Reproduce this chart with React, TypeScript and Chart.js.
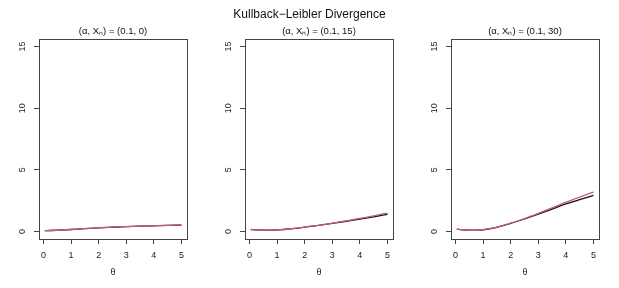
import React, { useEffect, useRef } from "react";
import { Chart, registerables } from "chart.js";

Chart.register(...registerables);

const mainTitle = "Kullback−Leibler Divergence";
const panelTitles = ["(α, Xₙ) = (0.1, 0)", "(α, Xₙ) = (0.1, 15)", "(α, Xₙ) = (0.1, 30)"];
const xLabel = "θ";

const theta = [0.05, 0.25, 0.5, 0.75, 1, 1.5, 2, 2.5, 3, 3.5, 4, 4.5, 5];

// panel 1 (X_n = 0)
const klBlack0 = [0.08, 0.09, 0.11, 0.14, 0.17, 0.24, 0.3, 0.35, 0.4, 0.44, 0.47, 0.5, 0.52];
const klRed0 = [0.08, 0.09, 0.11, 0.14, 0.17, 0.24, 0.31, 0.36, 0.41, 0.45, 0.48, 0.51, 0.53];
// panel 2 (X_n = 15)
const klBlack15 = [0.17, 0.14, 0.12, 0.12, 0.14, 0.23, 0.36, 0.5, 0.66, 0.83, 1.01, 1.2, 1.4];
const klRed15 = [0.17, 0.14, 0.12, 0.12, 0.14, 0.23, 0.37, 0.51, 0.68, 0.86, 1.07, 1.28, 1.5];
// panel 3 (X_n = 30)
const klBlack30 = [0.2, 0.15, 0.11, 0.11, 0.15, 0.35, 0.66, 1.02, 1.41, 1.82, 2.24, 2.58, 2.94];
const klRed30 = [0.2, 0.15, 0.11, 0.11, 0.15, 0.36, 0.68, 1.06, 1.48, 1.92, 2.38, 2.8, 3.2];

const blackSeries = [klBlack0, klBlack15, klBlack30];
const redSeries = [klRed0, klRed15, klRed30];

const xTicks = [0, 1, 2, 3, 4, 5];
const yTicks = [0, 5, 10, 15];

const FONT = "'Liberation Sans', Arial, Helvetica, sans-serif";
const PANEL_W = 206;
const H = 288;

const framePlugin = {
  id: "frame",
  afterDraw(chart: any) {
    const { ctx, chartArea } = chart;
    const { left, top, right, bottom } = chartArea;
    ctx.save();
    ctx.strokeStyle = "#444";
    ctx.lineWidth = 1;
    ctx.strokeRect(Math.round(left) + 0.5, Math.round(top) + 0.5, Math.round(right - left), Math.round(bottom - top));
    ctx.restore();
  },
};

function Panel({ idx }: { idx: number }) {
  const ref = useRef<HTMLCanvasElement | null>(null);
  useEffect(() => {
    if (!ref.current) return;
    const toPts = (arr: number[]) => theta.map((t, i) => ({ x: t, y: arr[i] }));
    const chart = new Chart(ref.current, {
      type: "line",
      data: {
        datasets: [
          {
            data: toPts(redSeries[idx]),
            borderColor: "#c0607c",
            borderWidth: 1.3,
            pointRadius: 0,
            cubicInterpolationMode: "monotone",
            fill: false,
            order: 0,
          },
          {
            data: toPts(blackSeries[idx]),
            borderColor: "#111",
            borderWidth: 1.3,
            pointRadius: 0,
            cubicInterpolationMode: "monotone",
            fill: false,
            order: 1,
          },
        ],
      } as any,
      options: {
        responsive: false,
        animation: false,
        layout: { padding: { left: 0, right: PANEL_W - 187, top: 0, bottom: 0 } },
        plugins: {
          legend: { display: false },
          tooltip: { enabled: false },
          title: {
            display: true,
            fullSize: false,
            text: panelTitles[idx],
            color: "#111",
            font: { family: FONT, size: 9.5, weight: "normal" },
            padding: { top: 26, bottom: 1.6 },
          },
        },
        scales: {
          x: {
            type: "linear",
            min: -0.16,
            max: 5.2,
            afterBuildTicks: (s: any) => {
              s.ticks = xTicks.map((v) => ({ value: v }));
            },
            afterFit: (s: any) => {
              s.height = 49;
            },
            border: { display: false },
            grid: { display: true, drawOnChartArea: false, drawTicks: true, tickLength: 5, color: "#444", lineWidth: 1 },
            ticks: {
              padding: 6,
              color: "#222",
              font: { family: FONT, size: 9 },
              maxRotation: 0,
              minRotation: 0,
            },
            title: {
              display: true,
              text: xLabel,
              color: "#222",
              font: { family: FONT, size: 9 },
              padding: { top: 0, bottom: 10 },
            },
          },
          y: {
            type: "linear",
            min: -0.6,
            max: 15.6,
            afterBuildTicks: (s: any) => {
              s.ticks = yTicks.map((v) => ({ value: v }));
            },
            afterFit: (s: any) => {
              s.width = 39;
            },
            border: { display: false },
            grid: { display: true, drawOnChartArea: false, drawTicks: true, tickLength: 5, color: "#444", lineWidth: 1 },
            ticks: {
              padding: 6,
              color: "#222",
              font: { family: FONT, size: 9 },
              minRotation: 90,
              maxRotation: 90,
              crossAlign: "center",
            },
          },
        },
      } as any,
      plugins: [framePlugin],
    });
    return () => chart.destroy();
  }, [idx]);
  return <canvas ref={ref} width={PANEL_W} height={H} style={{ display: "block" }} />;
}

export default function App() {
  return (
    <div style={{ position: "absolute", left: 0, top: 0, width: 619, height: H, background: "#fff", overflow: "hidden" }}>
      {[0, 1, 2].map((i) => (
        <div key={i} style={{ position: "absolute", left: i * PANEL_W, top: 0, width: PANEL_W, height: H }}>
          <Panel idx={i} />
        </div>
      ))}
      <div
        style={{
          position: "absolute",
          left: 0,
          top: 6,
          width: 619,
          textAlign: "center",
          fontFamily: FONT,
          fontSize: 12,
          lineHeight: "16px",
          color: "#111",
        }}
      >
        {mainTitle}
      </div>
    </div>
  );
}
